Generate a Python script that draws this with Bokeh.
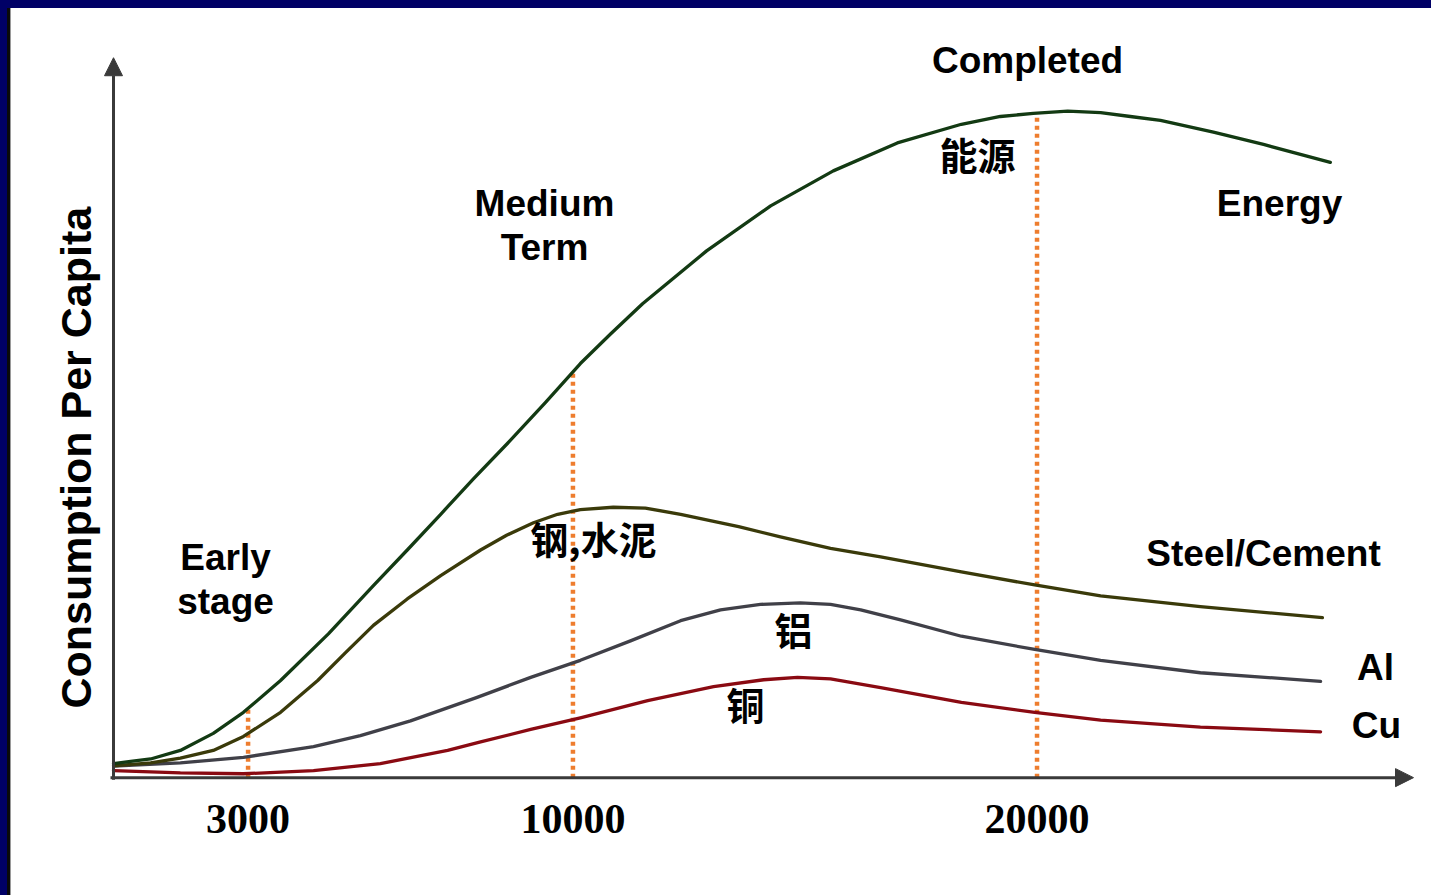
import numpy as np
from bokeh.plotting import figure
from bokeh.models import Range1d, Label, Arrow, NormalHead, FixedTicker, Div, NumeralTickFormatter
from bokeh.layouts import column, row
from bokeh.embed import file_html
from bokeh.resources import INLINE

# ---- data: consumption per capita (index) against GDP per capita (USD) ----
gdp_ticks = [3000, 10000, 20000]

energy_gdp = [100, 470, 900, 1540, 2250, 2900, 3700, 4730, 5700, 6430, 7150, 7860, 8650,
              9410, 10160, 10810, 11500, 12880, 14260, 15610, 16990, 18370, 19210, 19920,
              20660, 21370, 22010, 22660, 23800, 24880, 26320]
energy_use = [1.8, 2.1, 2.4, 3.5, 5.7, 8.4, 12.5, 18.5, 24.7, 29.3, 33.9, 38.5, 43.4,
              48.3, 53.3, 57.1, 61.0, 67.8, 73.6, 78.1, 81.7, 84.1, 85.1, 85.5,
              85.8, 85.6, 85.1, 84.6, 83.1, 81.5, 79.2]

steel_gdp = [100, 900, 1540, 2250, 2900, 3700, 4500, 5100, 5700, 6430, 7150, 8010, 8570,
             9150, 9670, 10160, 10870, 11560, 12320, 13570, 14470, 15550, 16630, 18370,
             19950, 21370, 23520, 26150]
steel_use = [1.5, 1.9, 2.5, 3.5, 5.3, 8.4, 12.5, 16.1, 19.6, 23.0, 26.0, 29.3, 31.2,
             32.8, 33.9, 34.5, 34.8, 34.7, 33.9, 32.3, 31.0, 29.5, 28.4, 26.5,
             24.8, 23.4, 22.0, 20.6]

al_gdp = [100, 1540, 2900, 4410, 5420, 6500, 7920, 9090, 10160, 11240, 12320, 13180,
          14040, 14900, 15550, 16200, 17060, 18370, 19950, 21370, 23520, 26110]
al_use = [1.5, 1.9, 2.6, 4.0, 5.4, 7.3, 10.3, 12.9, 15.1, 17.6, 20.2, 21.6,
          22.3, 22.5, 22.3, 21.6, 20.3, 18.2, 16.5, 15.1, 13.5, 12.4]

cu_gdp = [100, 1540, 2900, 4410, 5850, 7300, 8010, 9090, 10160, 11610, 13030, 14110,
          14840, 15550, 16630, 18370, 19950, 21370, 23520, 26110]
cu_use = [0.9, 0.6, 0.5, 0.9, 1.8, 3.5, 4.6, 6.2, 7.7, 9.9, 11.7, 12.6,
          12.9, 12.7, 11.6, 9.7, 8.4, 7.4, 6.5, 5.9]

stage_labels = ["Early\nstage", "Medium\nTerm", "Completed"]
series_en = ["Energy", "Steel/Cement", "Al", "Cu"]
series_zh = ["能源", "钢,水泥", "铝", "铜"]

# ---- styling ----
NAVY = "#000066"
AXIS = "#3a3a3a"
DOT = "#EE7D2E"
C_ENERGY = "#133a13"
C_STEEL = "#3a3a0a"
C_AL = "#404048"
C_CU = "#8a0a12"
EN_FONT = "Liberation Sans"
ZH_FONT = "Noto Sans CJK SC"


# page-pixel -> data helpers, used only for placing annotations
def gx(px):
    return 100 + (px - 113) * 21.548


def gy(py):
    return (777 - py) / 7.77


p = figure(width=1420, height=887,
           x_range=Range1d(-2098, 28500), y_range=Range1d(-2.3, 99),
           y_axis_type=None, toolbar_location=None, output_backend="svg",
           min_border_left=0, min_border_right=0, min_border_top=0, min_border_bottom=100,
           outline_line_color=None, background_fill_color="white", border_fill_color="white",
           margin=0)
p.grid.visible = False

xa = p.xaxis[0]
xa.ticker = FixedTicker(ticks=gdp_ticks)
xa.formatter = NumeralTickFormatter(format="0")
xa.axis_line_color = None
xa.major_tick_line_color = None
xa.minor_tick_line_color = None
xa.major_tick_out = 0
xa.major_tick_in = 0
xa.major_label_standoff = 9
xa.major_label_text_font = "Liberation Serif"
xa.major_label_text_font_style = "bold"
xa.major_label_text_font_size = "42px"
xa.major_label_text_color = "black"

# axis arrows
head_kw = dict(size=18, fill_color=AXIS, line_color=AXIS, line_width=1)
p.add_layout(Arrow(end=NormalHead(**head_kw), x_start=gx(113), y_start=gy(779),
                   x_end=gx(113), y_end=gy(57), line_color=AXIS, line_width=3))
p.add_layout(Arrow(end=NormalHead(**head_kw), x_start=gx(110), y_start=0,
                   x_end=gx(1413), y_end=0, line_color=AXIS, line_width=3))

# stage markers: dotted verticals from the axis up to the energy curve
tick_tops = np.interp(gdp_ticks, energy_gdp, energy_use)
p.segment(x0=gdp_ticks, y0=[0] * len(gdp_ticks), x1=gdp_ticks, y1=tick_tops,
          line_color=DOT, line_width=4.5, line_dash="4 4")

# consumption curves
for xs, ys, col in [(cu_gdp, cu_use, C_CU), (al_gdp, al_use, C_AL),
                    (steel_gdp, steel_use, C_STEEL), (energy_gdp, energy_use, C_ENERGY)]:
    p.line(xs, ys, line_color=col, line_width=3.3, line_join="round", line_cap="round")


def en_label(text, px, py, size="37px", angle=0.0):
    p.add_layout(Label(x=gx(px), y=gy(py), text=text, text_font=EN_FONT,
                       text_font_style="bold", text_font_size=size, text_color="black",
                       text_align="center", text_baseline="alphabetic", angle=angle))


def zh_label(text, px, py):
    p.add_layout(Label(x=gx(px), y=gy(py), text=text, text_font=ZH_FONT,
                       text_font_style="bold", text_font_size="38px", text_color="black",
                       text_align="center", text_baseline="middle"))


# stage titles
early, medium, completed = stage_labels
for line, base in zip(early.split("\n"), [557, 601]):
    en_label(line, 225, base)
for line, base in zip(medium.split("\n"), [203, 247]):
    en_label(line, 544, base)
en_label(completed, 1027, 60)

# series names
en_label(series_en[0], 1279, 203)
en_label(series_en[1], 1263, 553)
en_label(series_en[2], 1375, 667)
en_label(series_en[3], 1376, 725)

zh_label(series_zh[0], 977, 153)
zh_label(series_zh[1], 593, 537)
zh_label(series_zh[2], 793, 628)
zh_label(series_zh[3], 745, 703)

# axis titles
en_label("GDP Per Capita", 797, 871)
en_label("Consumption Per Capita", 75, 457, size="43px", angle=np.pi / 2)

# slide frame strips
top_strip = Div(width=1431, height=8, margin=0, styles={"background-color": NAVY})
left_strip = Div(width=11, height=887, margin=0, styles={
    "background": "linear-gradient(to right, #000066 0px, #000066 7px, #0a0a0a 7px, "
                  "#0a0a0a 10px, #9a9a9a 10px, #9a9a9a 11px)"})

layout = column(top_strip, row(left_strip, p, spacing=0, margin=0), spacing=0, margin=0)

open("out.html", "w").write(file_html(layout, INLINE))
